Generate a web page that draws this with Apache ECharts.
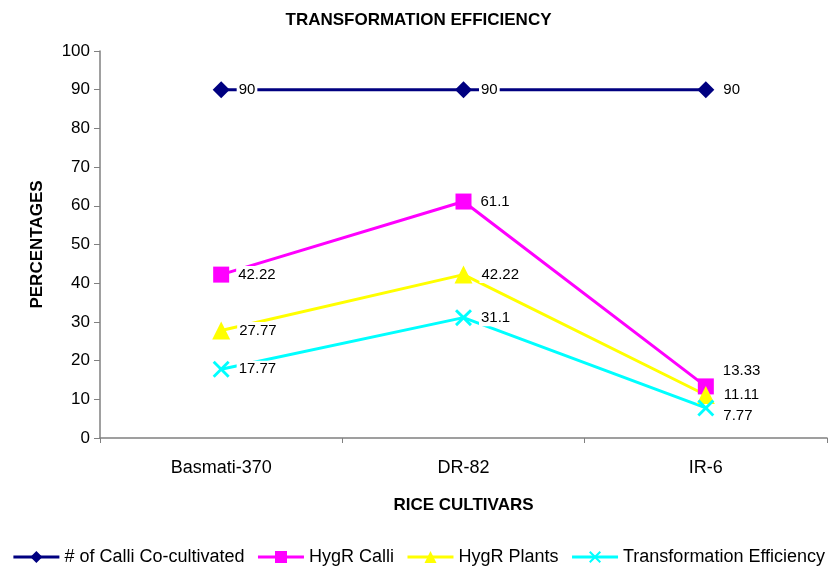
<!DOCTYPE html>
<html>
<head>
<meta charset="utf-8">
<script src="https://cdn.jsdelivr.net/npm/echarts@6/dist/echarts.min.js"></script>
<style>
  html, body { margin: 0; padding: 0; background: #fff; }
  #chart { width: 837px; height: 571px; }
</style>
</head>
<body>
<div id="chart"></div>
<script>
const cultivars = ['Basmati-370', 'DR-82', 'IR-6']
const calliCocultivated = [90, 90, 90]
const hygrCalli = [42.22, 61.1, 13.33]
const hygrPlants = [27.77, 42.22, 11.11]
const transEfficiency = [17.77, 31.1, 7.77]

const crossPath = 'path://M0,1.2L1.2,0L5,3.8L8.8,0L10,1.2L6.2,5L10,8.8L8.8,10L5,6.2L1.2,10L0,8.8L3.8,5Z'
const font = 'Liberation Sans, Arial, sans-serif'

// lastShift: vertical nudge of the IR-6 label so the three low labels don't overlap
function makeSeries (name, data, color, symbol, size, lastShift) {
  return {
    name: name,
    type: 'line',
    data: data.map((v, i) => (i === data.length - 1 && lastShift
      ? { value: v, label: { offset: [0, lastShift] } }
      : v)),
    symbol: symbol,
    symbolSize: size,
    lineStyle: { color: color, width: 3 },
    itemStyle: { color: color },
    label: {
      show: true,
      position: 'right',
      distance: 7,
      color: '#000',
      fontFamily: font,
      fontSize: 15,
      backgroundColor: '#fff',
      padding: [1, 2]
    }
  }
}

const myChart = echarts.init(document.getElementById('chart'))
myChart.setOption({
  animation: false,
  textStyle: { fontFamily: font },
  title: {
    text: 'TRANSFORMATION EFFICIENCY',
    left: 'center',
    top: 7,
    textStyle: { fontSize: 17, fontWeight: 'bold', color: '#000', fontFamily: font }
  },
  grid: { left: 100, right: 10, top: 51, bottom: 133 },
  legend: {
    top: 546,
    left: 'center',
    padding: 2,
    itemGap: 12,
    itemWidth: 46,
    itemHeight: 15,
    lineStyle: { width: 3 },
    textStyle: { fontSize: 18, color: '#000', fontFamily: font }
  },
  xAxis: {
    type: 'category',
    data: cultivars,
    name: 'RICE CULTIVARS',
    nameLocation: 'middle',
    nameGap: 59,
    nameTextStyle: { fontSize: 17, fontWeight: 'bold', color: '#000' },
    axisLine: { lineStyle: { color: '#808080', width: 1.5 } },
    axisTick: { show: true, length: 5, inside: false, lineStyle: { color: '#808080' } },
    axisLabel: { fontSize: 18, color: '#000', margin: 21 }
  },
  yAxis: {
    type: 'value',
    min: 0,
    max: 100,
    interval: 10,
    name: 'PERCENTAGES',
    nameLocation: 'middle',
    nameGap: 54,
    nameTextStyle: { fontSize: 17, fontWeight: 'bold', color: '#000' },
    axisLine: { show: true, lineStyle: { color: '#808080', width: 1.5 } },
    axisTick: { show: true, length: 6, lineStyle: { color: '#808080' } },
    axisLabel: { fontSize: 17, color: '#000', margin: 10 },
    splitLine: { show: false }
  },
  series: [
    makeSeries('# of Calli Co-cultivated', calliCocultivated, '#000080', 'diamond', 17, 0),
    makeSeries('HygR Calli', hygrCalli, '#ff00ff', 'rect', 16, -16),
    makeSeries('HygR Plants', hygrPlants, '#ffff00', 'triangle', 18, 0),
    makeSeries('Transformation Efficiency', transEfficiency, '#00ffff', crossPath, 17, 8)
  ]
})
</script>
</body>
</html>
